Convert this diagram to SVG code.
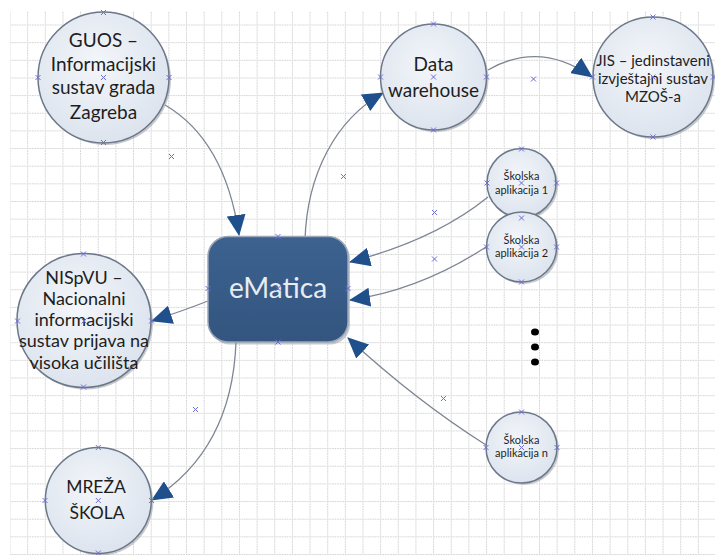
<svg xmlns="http://www.w3.org/2000/svg" xmlns:xlink="http://www.w3.org/1999/xlink" width="715" height="555" viewBox="0 0 715 555">
<style>
.bg{fill:#ffffff}
.sh{fill:#8d959f;opacity:.5}
.nc{fill:url(#cg);stroke:#6c7889;stroke-width:1.5}
.t{font-family:Lato,"Liberation Sans",sans-serif;fill:#1e1e1e;text-anchor:middle}
.conn path{fill:none;stroke:#7e8693;stroke-width:1.3;marker-end:url(#ah)}
.xm{stroke:#6b6bd8;stroke-width:1;fill:none}
</style>
<defs>
<pattern id="grid" patternUnits="userSpaceOnUse" x="9.5" y="24.5" width="17.65" height="17.65">
<path d="M0.5,0 V17.65 M0,0.5 H17.65" stroke="#cfcfcf" stroke-width="1" stroke-dasharray="1.5 1" fill="none"/>
</pattern>
<radialGradient id="cg" cx="0.45" cy="0.4" r="0.6">
<stop offset="0" stop-color="#f3f6fa"/>
<stop offset="1" stop-color="#dde4ee"/>
</radialGradient>
<linearGradient id="rg" x1="0" y1="0" x2="0" y2="1">
<stop offset="0" stop-color="#3d6290"/>
<stop offset="1" stop-color="#33557f"/>
</linearGradient>
<marker id="ah" markerUnits="userSpaceOnUse" viewBox="0 0 21 19" markerWidth="21" markerHeight="19" refX="20" refY="9.5" orient="auto">
<path d="M0,0 L21,9.5 L0,19 Z" fill="#20508c"/>
</marker>
<path id="x" class="xm" d="M-2.5,-2.5 L2.5,2.5 M-2.5,2.5 L2.5,-2.5"/>
</defs>
<rect class="bg" x="0" y="0" width="715" height="555"/>
<rect x="10" y="11" width="705" height="544" fill="url(#grid)"/>

<g id="connectors" class="conn">
<path d="M165,105 Q225,140 239,235"/>
<path d="M305,240 C307,175 335,120 383,93"/>
<path d="M488,70 Q540,40 592,77"/>
<path d="M488,197 Q435,240 350,262"/>
<path d="M486,247 Q420,290 350,300"/>
<path d="M486,445 Q415,400 348,338"/>
<path d="M208,301 Q185,310 152,321"/>
<path d="M236,342 Q232,450 152,500"/>
</g>

<g id="guos">
<circle class="sh" cx="105.5" cy="79.5" r="65.5"/>
<circle class="nc" cx="103.5" cy="77.5" r="65.5"/>
<text class="t" font-size="19" x="103.5" y="47">GUOS –</text>
<text class="t" font-size="19" x="103.5" y="70.5">Informacijski</text>
<text class="t" font-size="19" x="103.5" y="94.3">sustav grada</text>
<text class="t" font-size="19" x="103.5" y="118.5">Zagreba</text>
</g>

<g id="data-warehouse">
<circle class="sh" cx="435.5" cy="79" r="53"/>
<circle class="nc" cx="433.5" cy="77" r="53"/>
<text class="t" font-size="19" x="433.5" y="70.5">Data</text>
<text class="t" font-size="19" x="433.5" y="96.5">warehouse</text>
</g>

<g id="jis">
<circle class="sh" cx="655" cy="79" r="60"/>
<circle class="nc" cx="653" cy="77" r="60"/>
<text class="t" font-size="15" x="653" y="66">JIS – jedinstaveni</text>
<text class="t" font-size="15" x="653" y="84">izvještajni sustav</text>
<text class="t" font-size="15" x="653" y="101.5">MZOŠ-a</text>
</g>

<g id="ematica">
<rect x="210" y="238.5" width="140" height="106" rx="20" fill="#8d959f" opacity=".5"/>
<rect x="208" y="236.5" width="140" height="105.5" rx="20" fill="url(#rg)" stroke="#9aa6b8" stroke-width="1.5"/>
<text class="t" font-size="28" x="278" y="298" style="fill:#e8ecf2">eMatica</text>
</g>

<g id="skolska-1">
<circle class="sh" cx="523.5" cy="185" r="34.5"/>
<circle class="nc" cx="521.5" cy="183" r="34.5"/>
<text class="t" font-size="11" x="521.5" y="180">Školska</text>
<text class="t" font-size="11" x="521.5" y="193.5">aplikacija 1</text>
</g>

<g id="skolska-2">
<circle class="sh" cx="523.5" cy="249" r="35"/>
<circle class="nc" cx="521.5" cy="247" r="35"/>
<text class="t" font-size="11" x="521.5" y="243.5">Školska</text>
<text class="t" font-size="11" x="521.5" y="256.5">aplikacija 2</text>
</g>

<g id="skolska-n">
<circle class="sh" cx="523.5" cy="449.5" r="35.5"/>
<circle class="nc" cx="521.5" cy="447.5" r="35.5"/>
<text class="t" font-size="11" x="521.5" y="444">Školska</text>
<text class="t" font-size="11" x="521.5" y="457.3">aplikacija n</text>
</g>

<g id="ellipsis">
<ellipse cx="535" cy="332" rx="4" ry="3.5" fill="#000"/>
<ellipse cx="535" cy="347" rx="4" ry="3.5" fill="#000"/>
<ellipse cx="535" cy="362" rx="4" ry="3.5" fill="#000"/>
</g>

<g id="nispvu">
<circle class="sh" cx="86" cy="322.5" r="67"/>
<circle class="nc" cx="84" cy="320.5" r="67"/>
<text class="t" font-size="18" x="84" y="283.5">NISpVU –</text>
<text class="t" font-size="18" x="84" y="304.8">Nacionalni</text>
<text class="t" font-size="18" x="84" y="326">informacijski</text>
<text class="t" font-size="18" x="84" y="347.3">sustav prijava na</text>
<text class="t" font-size="18" x="84" y="368.6">visoka učilišta</text>
</g>

<g id="mreza-skola">
<circle class="sh" cx="100.3" cy="502.5" r="53"/>
<circle class="nc" cx="98.3" cy="500.5" r="53"/>
<text class="t" font-size="17.5" x="96" y="493.3">MREŽA</text>
<text class="t" font-size="17.5" x="97" y="519.3">ŠKOLA</text>
</g>

<g id="markers">
<use xlink:href="#x" x="103.5" y="12.5"/>
<use xlink:href="#x" x="38" y="77.5"/>
<use xlink:href="#x" x="103.5" y="77.5"/>
<use xlink:href="#x" x="169" y="77.5"/>
<use xlink:href="#x" x="103.5" y="142.5"/>
<use xlink:href="#x" x="171.5" y="156.5"/>
<use xlink:href="#x" x="433.5" y="24"/>
<use xlink:href="#x" x="380.5" y="77"/>
<use xlink:href="#x" x="433.5" y="77"/>
<use xlink:href="#x" x="486.5" y="77"/>
<use xlink:href="#x" x="433.5" y="130"/>
<use xlink:href="#x" x="533.5" y="79"/>
<use xlink:href="#x" x="653" y="17"/>
<use xlink:href="#x" x="592.5" y="77"/>
<use xlink:href="#x" x="653" y="77"/>
<use xlink:href="#x" x="713.5" y="77"/>
<use xlink:href="#x" x="653" y="137"/>
<use xlink:href="#x" x="278" y="236.5"/>
<use xlink:href="#x" x="208" y="288.5"/>
<use xlink:href="#x" x="278" y="288.5"/>
<use xlink:href="#x" x="348" y="288.5"/>
<use xlink:href="#x" x="278" y="342"/>
<use xlink:href="#x" x="343.5" y="176.5"/>
<use xlink:href="#x" x="521.5" y="149"/>
<use xlink:href="#x" x="487" y="183"/>
<use xlink:href="#x" x="521.5" y="183"/>
<use xlink:href="#x" x="556.5" y="183"/>
<use xlink:href="#x" x="521.5" y="218"/>
<use xlink:href="#x" x="486.5" y="247"/>
<use xlink:href="#x" x="521.5" y="247"/>
<use xlink:href="#x" x="556.5" y="247"/>
<use xlink:href="#x" x="521.5" y="282"/>
<use xlink:href="#x" x="434.5" y="212.5"/>
<use xlink:href="#x" x="434.5" y="259"/>
<use xlink:href="#x" x="443.5" y="398.5"/>
<use xlink:href="#x" x="521.5" y="412"/>
<use xlink:href="#x" x="486" y="447.5"/>
<use xlink:href="#x" x="521.5" y="447.5"/>
<use xlink:href="#x" x="557" y="447.5"/>
<use xlink:href="#x" x="83.5" y="254"/>
<use xlink:href="#x" x="17.5" y="321"/>
<use xlink:href="#x" x="84" y="321"/>
<use xlink:href="#x" x="151.5" y="321"/>
<use xlink:href="#x" x="83.5" y="387"/>
<use xlink:href="#x" x="195.5" y="409.5"/>
<use xlink:href="#x" x="98.3" y="447.5"/>
<use xlink:href="#x" x="45" y="500.5"/>
<use xlink:href="#x" x="98.3" y="500.5"/>
<use xlink:href="#x" x="151.5" y="500.5"/>
<use xlink:href="#x" x="98.3" y="553"/>
</g>
</svg>
